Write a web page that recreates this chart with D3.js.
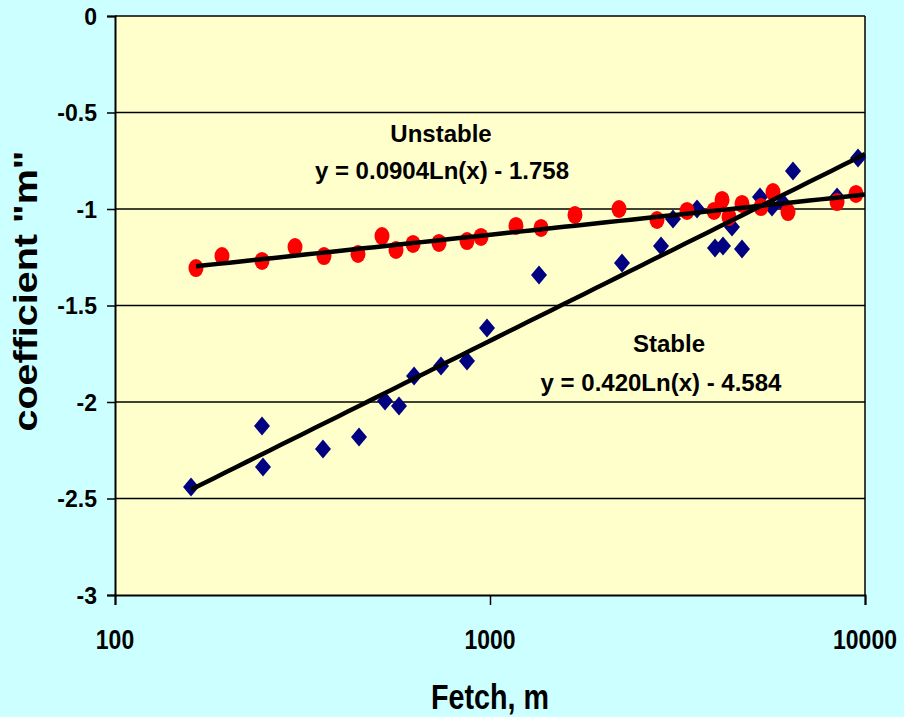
<!DOCTYPE html>
<html>
<head>
<meta charset="utf-8">
<script src="https://cdn.jsdelivr.net/npm/d3@7"></script>
<style>
  html, body { margin: 0; padding: 0; background: #CCFFFF; }
  svg { display: block; }
  text { font-family: "Liberation Sans", Arial, sans-serif; font-weight: bold; fill: #000; }
</style>
</head>
<body>
<svg id="chart" width="904" height="717"></svg>
<script>
// Stable conditions: fetch (m) and coefficient m
const stableFetch = [159.5, 246.6, 248.1, 358.6, 447.4, 524.8, 571.9, 627.3, 740.2, 868.3,
  981.8, 1351, 2249, 2858, 3076, 3565, 3981, 4182, 4419, 4699,
  5248, 5649, 6045, 6427, 8423, 9580];
const stableM = [-2.440, -2.124, -2.337, -2.244, -2.181, -1.995, -2.021, -1.865, -1.813, -1.788,
  -1.617, -1.342, -1.280, -1.192, -1.052, -1.000, -1.202, -1.192, -1.093, -1.207,
  -0.938, -0.990, -0.969, -0.803, -0.938, -0.736];

// Unstable conditions: fetch (m) and coefficient m
const unstableFetch = [164.4, 192.9, 246.6, 302, 360.8, 444.6, 515.2, 561.5, 623.4, 731.1,
  868.3, 946.2, 1173, 1368, 1685, 2208, 2788, 3352, 3957, 4157,
  4339, 4699, 5281, 5684, 6232, 8423, 9462];
const unstableM = [-1.306, -1.244, -1.269, -1.197, -1.244, -1.233, -1.140, -1.212, -1.181, -1.176,
  -1.166, -1.145, -1.088, -1.098, -1.031, -1.000, -1.057, -1.010, -1.010, -0.953,
  -1.041, -0.974, -0.990, -0.912, -1.016, -0.964, -0.922];

// Logarithmic fits y = a*ln(x) + b
const stableFit = { a: 0.420, b: -4.584 };
const unstableFit = { a: 0.0904, b: -1.758 };

// Axis ticks
const xTicks = [100, 1000, 10000];
const yTicks = [0, -0.5, -1, -1.5, -2, -2.5, -3];

const svg = d3.select("#chart");
const plotLeft = 115, plotRight = 865, plotTop = 16, plotBottom = 595;

const x = d3.scaleLog().domain([100, 10000]).range([plotLeft, plotRight]);
const y = d3.scaleLinear().domain([-3, 0]).range([plotBottom, plotTop]);

// Plot area
svg.append("rect")
  .attr("x", plotLeft).attr("y", plotTop)
  .attr("width", plotRight - plotLeft).attr("height", plotBottom - plotTop)
  .attr("fill", "#FFFFCC");

// Horizontal gridlines
svg.append("g").selectAll("line")
  .data(yTicks.filter(d => d > -3))
  .join("line")
  .attr("x1", plotLeft).attr("x2", plotRight)
  .attr("y1", d => y(d)).attr("y2", d => y(d))
  .attr("stroke", "#000").attr("stroke-width", 1.5);

// Right border
svg.append("line")
  .attr("x1", plotRight).attr("x2", plotRight)
  .attr("y1", plotTop).attr("y2", plotBottom)
  .attr("stroke", "#000").attr("stroke-width", 1.5);

// Y axis
const yAxis = d3.axisLeft(y).tickValues(yTicks).tickSize(8).tickFormat(d => String(d));
const gy = svg.append("g").attr("transform", `translate(${plotLeft},0)`).call(yAxis);
gy.select(".domain").attr("stroke", "#000").attr("stroke-width", 2);
gy.selectAll(".tick line").attr("stroke", "#000").attr("stroke-width", 1.5);
gy.selectAll(".tick text")
  .attr("x", -18).attr("dy", "0.36em")
  .style("font-family", "'Liberation Sans', Arial, sans-serif")
  .style("font-weight", "bold").style("font-size", "23px").attr("fill", "#000");

// X axis
const xAxis = d3.axisBottom(x).tickValues(xTicks).tickSize(10).tickFormat("");
const gx = svg.append("g").attr("transform", `translate(0,${plotBottom})`).call(xAxis);
gx.select(".domain").attr("stroke", "#000").attr("stroke-width", 2);
gx.selectAll(".tick line").attr("stroke", "#000").attr("stroke-width", 1.5);

// X tick labels (narrow bold lettering)
svg.append("g").selectAll("text")
  .data(xTicks)
  .join("text")
  .attr("transform", d => `translate(${x(d)},649) scale(0.82,1)`)
  .attr("text-anchor", "middle")
  .style("font-size", "28px")
  .text(d => String(d));

// Axis titles
svg.append("text")
  .attr("transform", "translate(490,709) scale(0.82,1)")
  .attr("text-anchor", "middle")
  .style("font-size", "35px")
  .text("Fetch, m");

svg.append("text")
  .attr("transform", "translate(37,291) rotate(-90) scale(1,0.85)")
  .attr("text-anchor", "middle")
  .style("font-size", "39.5px")
  .text("coefficient \"m\"");

// Markers: stable (navy diamonds) under unstable (red circles)
const dw = 8, dh = 9.5;
svg.append("g").selectAll("path")
  .data(stableFetch.map((f, i) => [f, stableM[i]]))
  .join("path")
  .attr("d", d => {
    const cx = x(d[0]), cy = y(d[1]);
    return `M${cx},${cy - dh}L${cx + dw},${cy}L${cx},${cy + dh}L${cx - dw},${cy}Z`;
  })
  .attr("fill", "#000080");

svg.append("g").selectAll("ellipse")
  .data(unstableFetch.map((f, i) => [f, unstableM[i]]))
  .join("ellipse")
  .attr("cx", d => x(d[0])).attr("cy", d => y(d[1]))
  .attr("rx", 7.5).attr("ry", 9)
  .attr("fill", "#FF0000");

// Trend lines
function fitLine(fit, xmin, xmax) {
  const n = 60;
  const lx0 = Math.log(xmin), lx1 = Math.log(xmax);
  return d3.range(n + 1).map(i => {
    const xv = Math.exp(lx0 + (lx1 - lx0) * i / n);
    return [xv, fit.a * Math.log(xv) + fit.b];
  });
}
const line = d3.line().x(d => x(d[0])).y(d => y(d[1]));

[[stableFit, d3.min(stableFetch)], [unstableFit, d3.min(unstableFetch)]].forEach(([fit, xmin]) => {
  svg.append("path")
    .datum(fitLine(fit, xmin, 10000))
    .attr("d", line)
    .attr("fill", "none")
    .attr("stroke", "#000")
    .attr("stroke-width", 4.5)
    .attr("stroke-linejoin", "round");
});

// Equation labels
svg.append("text").attr("x", 441).attr("y", 142).attr("text-anchor", "middle")
  .style("font-size", "24px").text("Unstable");
svg.append("text").attr("x", 442).attr("y", 179).attr("text-anchor", "middle")
  .style("font-size", "24px").text("y = 0.0904Ln(x) - 1.758");
svg.append("text").attr("x", 669).attr("y", 352).attr("text-anchor", "middle")
  .style("font-size", "24px").text("Stable");
svg.append("text").attr("x", 661).attr("y", 391).attr("text-anchor", "middle")
  .style("font-size", "24px").text("y = 0.420Ln(x) - 4.584");
</script>
</body>
</html>
